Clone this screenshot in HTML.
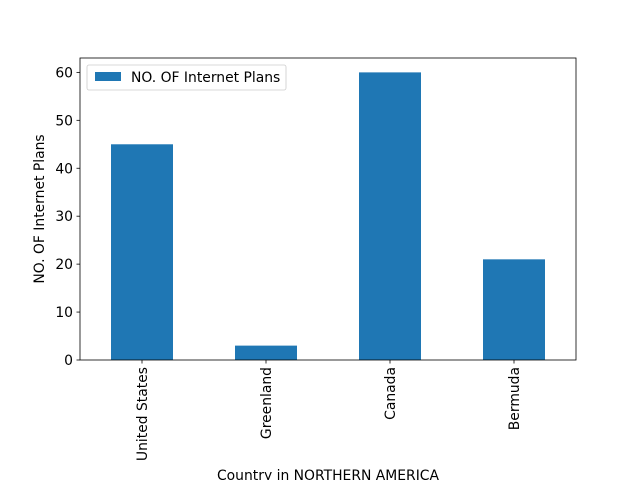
<!DOCTYPE html>
<html><head><meta charset="utf-8"><style>
body{margin:0;background:#fff}
svg{font-family:"DejaVu Sans","Liberation Sans",sans-serif}
</style></head><body>
<svg id="c" width="640" height="480" viewBox="0 0 640 480"></svg>
<script>
const categories=["United States","Greenland","Canada","Bermuda"];
const values=[45,3,60,21];
const yTicks=[0,10,20,30,40,50,60];
const L=80,R=576,T=58,B=360,yMax=63;
const FS=13.9;
const ns="http://www.w3.org/2000/svg";
const svg=document.getElementById('c');
function mk(t,a,p){const e=document.createElementNS(ns,t);for(const k in a)e.setAttribute(k,a[k]);(p||svg).appendChild(e);return e;}
const step=(R-L)/categories.length;
const x=i=>L+step*(i+0.5);
const y=v=>B-(B-T)*v/yMax;
values.forEach((v,i)=>{
 const r=mk('rect',{x:x(i)-step/4,y:y(v),width:step/2,height:B-y(v),fill:'#1f77b4'});
 
 
});
const ax=mk('rect',{x:L,y:T,width:R-L,height:B-T,fill:'none',stroke:'#000','stroke-width':0.8});


yTicks.forEach(t=>{
 mk('line',{x1:L-3.5,x2:L,y1:y(t),y2:y(t),stroke:'#000','stroke-width':0.8});
 const tx=mk('text',{x:L-7,y:y(t)+5,'text-anchor':'end','font-size':FS,fill:'#000'});
 tx.textContent=t;
 
 
});
categories.forEach((c,i)=>{
 mk('line',{x1:x(i),x2:x(i),y1:B,y2:B+3.5,stroke:'#000','stroke-width':0.8});
 const tx=mk('text',{transform:`translate(${x(i)+5},${B+7}) rotate(-90)`,'text-anchor':'end','font-size':FS,fill:'#000'});
 tx.textContent=c;
 
 
});
const xl=mk('text',{x:(L+R)/2,y:480,'text-anchor':'middle','font-size':FS,fill:'#000'});
xl.textContent='Country in NORTHERN AMERICA';


const yl=mk('text',{transform:`translate(44,${(T+B)/2}) rotate(-90)`,'text-anchor':'middle','font-size':FS,fill:'#000'});
yl.textContent='NO. OF Internet Plans';


const lg=mk('g',{});


mk('rect',{x:87,y:65,width:199,height:25,rx:2,fill:'#fff',stroke:'#ccc','stroke-width':0.8},lg);
mk('rect',{x:95,y:72,width:26,height:9,fill:'#1f77b4'},lg);
const lt=mk('text',{x:131,y:82,'font-size':FS,fill:'#000'},lg);
lt.textContent='NO. OF Internet Plans';
</script>
</body></html>
